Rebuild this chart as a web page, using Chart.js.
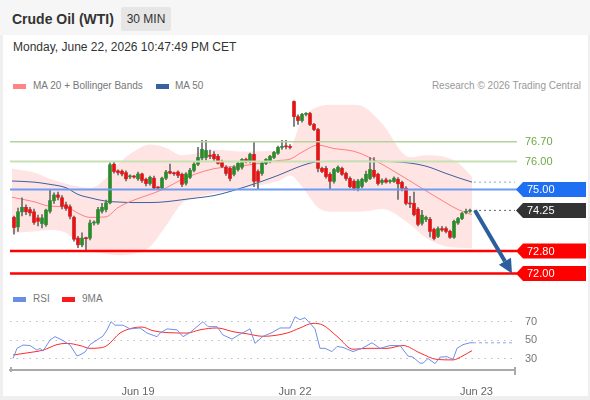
<!DOCTYPE html>
<html>
<head>
<meta charset="utf-8">
<script src="https://cdn.jsdelivr.net/npm/chart.js@4.4.1/dist/chart.umd.min.js"></script>
<style>
  html, body { margin: 0; padding: 0; }
  body { width: 590px; height: 400px; background: #efefef; position: relative; overflow: hidden;
         font-family: "Liberation Sans", Arial, sans-serif; color: #333; }
  #head { position: absolute; left: 0; top: 0; width: 590px; height: 35px; background: #f6f6f6; }
  #card { position: absolute; left: 3px; top: 35px; width: 585px; height: 361px; background: #fff; }
  .abs { position: absolute; white-space: nowrap; }
  #title { left: 12px; top: 10px; font-size: 14px; font-weight: bold; line-height: 18px; }
  #badge { left: 121px; top: 7px; width: 50px; height: 24px; line-height: 24px; text-align: center;
           font-size: 12px; background: #e6e6e6; border-radius: 2px; }
  #date { left: 13px; top: 40px; font-size: 12px; line-height: 14px; }
  .leg { font-size: 10px; color: #777; line-height: 12px; }
  .sw { position: absolute; width: 13px; height: 5px; }
  canvas { position: absolute; left: 0; }
</style>
</head>
<body>
<div id="head"></div>
<div id="card"></div>
<div id="title" class="abs">Crude Oil (WTI)</div>
<div id="badge" class="abs">30 MIN</div>
<div id="date" class="abs">Monday, June 22, 2026 10:47:49 PM CET</div>

<div class="sw" style="left:13px;top:84px;background:#ff8585"></div>
<div class="abs leg" style="left:33px;top:80px">MA 20 + Bollinger Bands</div>
<div class="sw" style="left:156px;top:84px;background:#3a60a2"></div>
<div class="abs leg" style="left:175px;top:80px">MA 50</div>
<div class="abs leg" style="right:9px;top:80px;color:#999">Research © 2026 Trading Central</div>

<div class="sw" style="left:13px;top:297px;background:#6a8ee8"></div>
<div class="abs leg" style="left:33px;top:293px">RSI</div>
<div class="sw" style="left:62px;top:297px;background:#ff1a1a"></div>
<div class="abs leg" style="left:82px;top:293px">9MA</div>

<canvas id="mainChart" width="590" height="290" style="top:0"></canvas>
<canvas id="rsiChart" width="590" height="110" style="top:290px"></canvas>

<script>
// 30 min candles, oldest first
var opens = [74.00,73.66,74.20,74.36,74.28,74.20,73.98,73.78,73.74,74.22,74.60,74.80,74.70,74.45,74.38,74.00,73.26,73.02,73.26,73.26,
  73.80,73.80,74.22,74.28,74.52,75.90,75.66,75.65,75.60,75.45,75.46,75.38,75.55,75.36,75.21,75.40,75.06,75.05,75.40,75.64,
  75.58,75.62,75.54,75.22,75.43,75.68,75.90,76.12,76.14,76.22,76.25,76.18,76.00,75.79,75.75,75.54,75.71,75.79,76.07,76.00,
  76.25,75.64,75.57,75.93,76.00,76.14,76.29,76.50,76.53,76.52,78.14,77.60,77.46,77.68,77.71,77.32,77.14,75.75,75.75,75.54,
  75.29,75.64,75.75,75.57,75.39,75.29,75.04,75.11,75.29,75.39,75.68,75.54,75.25,75.34,75.28,75.28,75.36,75.25,75.04,74.50,
  74.50,74.29,73.79,73.93,73.93,73.57,73.32,73.60,73.60,73.50,73.29,73.80,73.96,74.18,74.22];
var highs = [74.05,74.33,74.70,74.45,74.36,74.30,74.08,74.10,74.30,75.00,74.88,74.90,74.78,74.55,74.45,74.05,73.32,73.45,73.30,73.90,
  73.88,74.36,74.50,74.62,75.95,76.00,75.70,75.70,75.66,75.52,75.50,75.62,75.58,75.40,75.48,75.48,75.10,75.44,75.68,75.90,
  75.62,75.66,75.58,75.60,75.75,75.98,76.50,76.75,76.75,76.40,76.35,76.25,76.05,75.85,75.80,75.85,76.00,76.10,76.12,76.30,
  76.70,75.70,75.98,76.10,76.22,76.36,76.55,76.75,76.75,76.60,78.16,77.66,77.72,77.74,77.75,77.36,77.18,75.80,75.82,75.60,
  75.75,75.84,75.80,75.62,75.45,75.35,75.36,75.40,75.65,76.14,76.14,75.58,75.38,75.40,75.35,75.45,75.42,75.30,75.10,74.75,
  74.90,74.35,74.25,74.05,74.00,73.62,73.66,73.68,73.66,73.55,73.90,74.00,74.18,74.30,74.30];
var lows = [73.40,73.50,74.05,74.10,74.05,73.75,73.70,73.62,73.68,74.15,74.50,74.62,74.30,74.25,73.95,73.15,72.92,72.95,72.80,73.20,
  73.72,73.75,74.15,74.20,74.48,75.58,75.52,75.48,75.30,75.38,75.40,75.32,75.25,75.12,75.15,75.00,75.00,75.02,75.35,75.55,
  75.50,75.42,75.10,75.15,75.38,75.62,75.85,76.05,76.05,76.10,76.00,75.90,75.78,75.50,75.30,75.48,75.65,75.72,75.95,75.95,
  75.10,75.00,75.50,75.88,75.95,76.10,76.25,76.43,76.45,76.45,77.25,77.32,77.40,77.62,77.28,77.10,75.62,75.60,75.40,75.00,
  75.22,75.60,75.50,75.32,75.05,74.98,74.95,75.05,75.25,75.35,75.40,75.15,75.18,75.22,75.22,75.25,74.64,74.95,74.45,74.35,
  74.05,73.70,73.72,73.85,73.30,73.20,73.28,73.50,73.45,73.25,73.25,73.75,73.92,74.12,74.18];
var closes = [73.64,74.20,74.36,74.20,74.16,73.82,73.86,73.98,74.26,74.60,74.80,74.72,74.40,74.32,74.04,73.22,73.02,73.26,73.24,73.80,
  73.82,74.28,74.36,74.52,75.88,75.64,75.60,75.55,75.38,75.46,75.44,75.55,75.32,75.21,75.43,75.05,75.05,75.40,75.62,75.58,
  75.56,75.50,75.18,75.55,75.68,75.90,76.14,76.43,76.39,76.18,76.10,75.93,75.82,75.57,75.39,75.79,75.93,76.07,76.00,76.25,
  75.29,75.29,75.93,76.07,76.18,76.32,76.50,76.53,76.52,76.50,77.60,77.46,77.68,77.68,77.32,77.14,75.75,75.64,75.46,75.29,
  75.71,75.79,75.54,75.39,75.10,75.04,75.30,75.36,75.54,75.71,75.46,75.21,75.32,75.26,75.30,75.40,75.20,75.04,74.50,74.48,
  74.10,73.75,74.08,74.00,73.50,73.25,73.60,73.55,73.50,73.29,73.86,73.96,74.14,74.21,74.25];

// overlay readings (x = bar index)
var ovIdx   = [-0.5, 5, 9, 13, 16, 19, 23, 26, 30, 34, 38, 42, 46, 50, 58, 66, 69, 72, 76, 80, 85, 88, 92, 99, 103, 108, 111, 114.5];
var ma20    = [74.72,74.56,74.40,74.38,74.15,74.00,74.02,74.35,74.62,74.82,75.05,75.36,75.58,75.74,75.86,76.03,76.08,76.33,76.58,76.46,76.36,76.20,75.90,75.30,74.95,74.52,74.28,74.10];
var ma50    = [75.30,75.26,75.18,75.06,74.82,74.70,74.58,74.55,74.53,74.53,74.56,74.63,74.70,74.78,75.10,75.50,75.68,75.85,75.99,76.00,76.00,76.00,76.00,75.94,75.83,75.57,75.42,75.26];
var bbUpper = [75.75,75.60,75.38,75.20,75.10,75.05,75.40,75.90,76.35,76.60,76.48,76.22,76.30,76.42,76.35,76.40,76.50,77.50,77.95,78.02,78.02,77.90,77.35,76.15,76.22,76.15,75.95,75.45];
var bbLower = [73.45,73.50,73.55,73.45,73.10,72.80,72.70,72.65,72.70,72.95,73.70,74.50,74.72,74.85,75.05,75.30,75.50,75.10,74.35,74.20,74.20,74.22,74.30,73.75,73.27,72.96,72.92,72.90];

// RSI panel readings
var rsiIdx = [-0.25,0.75,2.25,4,5.75,6.5,7.25,9,10.25,12,14,15.75,16.5,17.75,19,20.75,22.25,23.25,24.25,25.25,27.25,29,31.5,33.25,
  35.75,36.5,38.25,40.75,42.25,44,45.75,47.25,48.5,50.75,52.25,54.5,56,57.75,59,60.25,62.25,64.5,66.5,69,70.25,71.5,72.75,74,
  75.25,76.5,77.75,79.5,80.75,82.25,84.75,87,89.5,91.5,94,96.5,98.5,99.75,101.5,102.25,103.5,105.25,106.5,108.25,109.75,110.75,112.25,114,114.75];
var rsiVals = [30,41,44.6,44,39,41,38,50,53.6,50,44.6,32.7,34,37,45,50,54.3,60.8,69.8,66,66,62,63,57.5,
  53.6,57.5,62,61,53.6,58,64.4,69.8,64.4,64.4,55.4,51,55,59,62,46.4,54,58,63,63,75,72,74,68,
  62,41,41,37.5,43,42,37.5,41,47,41,44,44,32.7,31.5,25,25,30,24.5,31.5,32,29,41,45,47,47];
var rsiMaIdx = [-0.25,4.75,7.25,10.75,13.25,16.5,19,21.5,23.25,26.5,29.75,32,34.75,38.25,43.25,46.5,50.75,54.75,58.25,62.25,
  68.25,71.5,74.75,77.25,80.75,84.75,88.25,93.25,97.25,101.5,105.75,109.75,112.25,114.5];
var rsiMa = [33.8,37,39,45,46.4,44,41,41.5,44,57.5,63,64,60,58,57.5,61,63,59,56.7,54,
  57.5,63,68,66,54,40,41,41,44,36,29,28.5,33,38.5];

var dayTicks = [31, 70.25, 115.6];
var dayLabels = ['Jun 19', 'Jun 22', 'Jun 23'];
var rsiTicks = [30, 50, 70];

var resistances = [76.70, 76.00];
var pivot = 75.00;
var supports = [72.80, 72.00];

var lastIdx = closes.length - 1;
var lastClose = closes[lastIdx];

function pts(xs, ys) {
  return xs.map(function (v, k) { return { x: v, y: ys[k] }; });
}

var FONT = '11px "Liberation Sans", Arial, sans-serif';
var xMin = -1, xMax = 125.25;

var levelsPlugin = {
  id: 'levels',
  afterDatasetsDraw: function (chart) {
    var ctx = chart.ctx, a = chart.chartArea, x = chart.scales.x, y = chart.scales.y;
    ctx.save();

    function hline(v, color, w) {
      var py = y.getPixelForValue(v);
      ctx.beginPath();
      ctx.strokeStyle = color;
      ctx.lineWidth = w;
      ctx.moveTo(a.left, py);
      ctx.lineTo(a.right + 2, py);
      ctx.stroke();
    }
    function tag(v, text, bg) {
      var py = y.getPixelForValue(v), h = 15, x0 = a.right + 1, x1 = 586;
      ctx.beginPath();
      ctx.fillStyle = bg;
      ctx.moveTo(x0, py);
      ctx.lineTo(x0 + 7, py - h / 2);
      ctx.lineTo(x1, py - h / 2);
      ctx.lineTo(x1, py + h / 2);
      ctx.lineTo(x0 + 7, py + h / 2);
      ctx.closePath();
      ctx.fill();
      ctx.fillStyle = '#fff';
      ctx.font = FONT;
      ctx.textBaseline = 'middle';
      ctx.fillText(text, x0 + 11, py + 0.5);
    }

    hline(resistances[0], '#b3d39b', 1.5);
    hline(resistances[1], '#c8e1b4', 2);
    hline(pivot, '#6d9cf2', 2);
    hline(supports[0], '#ff0000', 2.5);
    hline(supports[1], '#ff0000', 2.5);

    ctx.font = FONT;
    ctx.textBaseline = 'middle';
    ctx.fillStyle = '#6fa846';
    resistances.forEach(function (v) {
      ctx.fillText(v.toFixed(2), a.right + 10, y.getPixelForValue(v) + 0.5);
    });

    // dotted tails after the last bar
    ctx.setLineDash([2, 3]);
    ctx.lineWidth = 1;
    ctx.strokeStyle = '#8ea8d2';
    var my = y.getPixelForValue(ma50[ma50.length - 1]);
    ctx.beginPath();
    ctx.moveTo(x.getPixelForValue(ovIdx[ovIdx.length - 1]) + 2, my);
    ctx.lineTo(a.right, my);
    ctx.stroke();
    ctx.strokeStyle = '#666';
    var cy = y.getPixelForValue(lastClose);
    ctx.beginPath();
    ctx.moveTo(x.getPixelForValue(lastIdx) + 4, cy);
    ctx.lineTo(a.right, cy);
    ctx.stroke();
    ctx.setLineDash([]);

    tag(pivot, pivot.toFixed(2), '#1f6ff2');
    tag(lastClose, lastClose.toFixed(2), '#333333');
    tag(supports[0], supports[0].toFixed(2), '#ff0000');
    tag(supports[1], supports[1].toFixed(2), '#ff0000');

    // expected move arrow toward the second support
    var ax0 = x.getPixelForValue(lastIdx + 1.25), ay0 = cy;
    var ax1 = x.getPixelForValue(lastIdx + 10.5), ay1 = y.getPixelForValue(supports[1]);
    var ang = Math.atan2(ay1 - ay0, ax1 - ax0), head = 14, half = 7;
    var bx = ax1 - head * Math.cos(ang), by = ay1 - head * Math.sin(ang);
    ctx.strokeStyle = '#2c5e9e';
    ctx.fillStyle = '#2c5e9e';
    ctx.lineWidth = 4;
    ctx.beginPath();
    ctx.moveTo(ax0, ay0);
    ctx.lineTo(bx, by);
    ctx.stroke();
    ctx.beginPath();
    ctx.moveTo(ax1, ay1);
    ctx.lineTo(bx + half * Math.sin(ang), by - half * Math.cos(ang));
    ctx.lineTo(bx - half * Math.sin(ang), by + half * Math.cos(ang));
    ctx.closePath();
    ctx.fill();
    ctx.restore();
  }
};

var upColor = '#2b8a2b', downColor = '#e01515';
var bodyColors = closes.map(function (c, i) { return c >= opens[i] ? upColor : downColor; });

new Chart(document.getElementById('mainChart'), {
  type: 'bar',
  data: {
    datasets: [
      {
        label: 'bodies',
        data: closes.map(function (c, i) { return { x: i, y: [opens[i], c] }; }),
        backgroundColor: bodyColors,
        barThickness: 3,
        minBarLength: 1,
        grouped: false,
        order: 0
      },
      {
        label: 'wicks',
        data: closes.map(function (c, i) { return { x: i, y: [lows[i], highs[i]] }; }),
        backgroundColor: '#6b6b6b',
        barThickness: 1,
        grouped: false,
        order: 1
      },
      {
        type: 'line', label: 'MA 20', data: pts(ovIdx, ma20),
        borderColor: '#ff8080', borderWidth: 1, pointRadius: 0,
        cubicInterpolationMode: 'monotone', order: 2
      },
      {
        type: 'line', label: 'MA 50', data: pts(ovIdx, ma50),
        borderColor: '#3a60a2', borderWidth: 1, pointRadius: 0,
        cubicInterpolationMode: 'monotone', order: 2
      },
      {
        type: 'line', label: 'BB up', data: pts(ovIdx, bbUpper),
        borderWidth: 0, borderColor: 'rgba(0,0,0,0)', pointRadius: 0,
        cubicInterpolationMode: 'monotone', order: 3
      },
      {
        type: 'line', label: 'BB low', data: pts(ovIdx, bbLower),
        borderWidth: 0, borderColor: 'rgba(0,0,0,0)', pointRadius: 0,
        cubicInterpolationMode: 'monotone', fill: '-1',
        backgroundColor: 'rgba(255,120,120,0.2)', order: 3
      }
    ]
  },
  options: {
    responsive: false,
    animation: false,
    layout: { padding: { left: 10, right: 75, top: 97, bottom: 11 } },
    plugins: { legend: { display: false }, tooltip: { enabled: false } },
    scales: {
      x: { type: 'linear', min: xMin, max: xMax, offset: false, display: false },
      y: { min: 71.8, max: 78.3, display: false }
    }
  },
  plugins: [levelsPlugin]
});

var axisEnds = {
  id: 'axisEnds',
  afterDraw: function (chart) {
    var ctx = chart.ctx, a = chart.chartArea;
    ctx.save();
    ctx.strokeStyle = '#aaa';
    ctx.lineWidth = 2;
    ctx.beginPath();
    ctx.moveTo(a.left + 1, a.bottom - 3);
    ctx.lineTo(a.left + 1, a.bottom + 2);
    ctx.moveTo(a.right, a.bottom - 3);
    ctx.lineTo(a.right, a.bottom + 5);
    ctx.stroke();
    ctx.restore();
  }
};

new Chart(document.getElementById('rsiChart'), {
  type: 'line',
  data: {
    datasets: [
      {
        label: 'RSI', data: pts(rsiIdx, rsiVals),
        borderColor: '#6f90ea', borderWidth: 1, pointRadius: 0, tension: 0
      },
      {
        label: 'RSI tail',
        data: [{ x: rsiIdx[rsiIdx.length - 1], y: rsiVals[rsiVals.length - 1] },
               { x: xMax, y: rsiVals[rsiVals.length - 1] }],
        borderColor: '#8ea6ee', borderWidth: 1, borderDash: [3, 3], pointRadius: 0
      },
      {
        label: '9MA', data: pts(rsiMaIdx, rsiMa),
        borderColor: '#ff2a2a', borderWidth: 1, pointRadius: 0,
        cubicInterpolationMode: 'monotone'
      }
    ]
  },
  options: {
    responsive: false,
    animation: false,
    layout: { padding: { left: 10, right: 0, top: 20, bottom: 0 } },
    plugins: { legend: { display: false }, tooltip: { enabled: false } },
    scales: {
      x: {
        type: 'linear', min: xMin, max: xMax, offset: false,
        grid: { display: false },
        border: { display: true, color: '#aaa', width: 2 },
        afterBuildTicks: function (axis) {
          axis.ticks = dayTicks.map(function (v) { return { value: v }; });
        },
        afterFit: function (axis) { axis.height = 30; },
        ticks: {
          autoSkip: false, maxRotation: 0, padding: 7,
          color: '#666', font: { family: '"Liberation Sans", Arial, sans-serif', size: 11 },
          callback: function (v, i) { return dayLabels[i]; }
        }
      },
      y: {
        position: 'right', min: 17.6, max: 82.4,
        afterBuildTicks: function (axis) {
          axis.ticks = rsiTicks.map(function (v) { return { value: v }; });
        },
        afterFit: function (axis) { axis.width = 75; },
        grid: { color: '#bdbdbd', lineWidth: 1, drawTicks: false },
        border: { display: false, dash: [1.5, 5] },
        ticks: {
          padding: 10, color: '#777',
          font: { family: '"Liberation Sans", Arial, sans-serif', size: 11 }
        }
      }
    }
  },
  plugins: [axisEnds]
});
</script>
</body>
</html>
